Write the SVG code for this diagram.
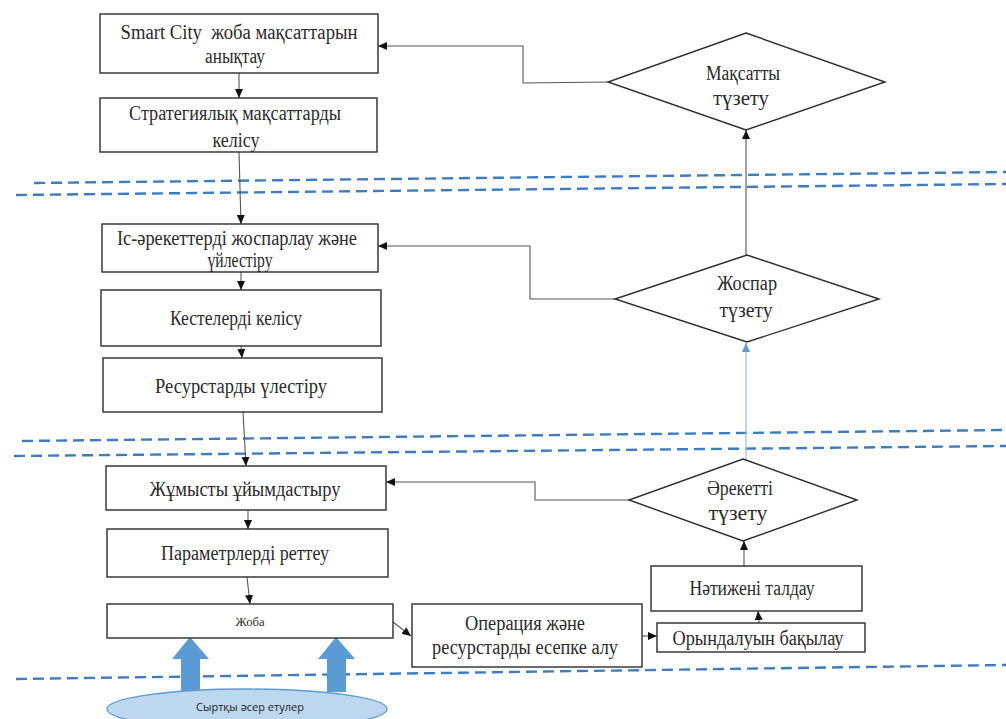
<svg xmlns="http://www.w3.org/2000/svg" width="1006" height="719" viewBox="0 0 1006 719">
  <defs>
    <marker id="arr" markerUnits="userSpaceOnUse" markerWidth="10" markerHeight="10" viewBox="0 0 10 10" refX="9" refY="5" orient="auto">
      <path d="M0,1 L9,5 L0,9 Z" fill="#111"/>
    </marker>
    <marker id="arrBlue" markerUnits="userSpaceOnUse" markerWidth="10" markerHeight="10" viewBox="0 0 10 10" refX="9" refY="5" orient="auto">
      <path d="M0,1 L9,5 L0,9 Z" fill="#5b9bd5"/>
    </marker>
    <style>
      .box { fill: #fff; stroke: #2b2b2b; stroke-width: 1.4; }
      .dia { fill: #fff; stroke: #2b2b2b; stroke-width: 1.4; }
      .t { font-family: "Liberation Serif", "Times New Roman", serif; font-size: 20px; fill: #2a2a2a; text-anchor: middle; }
      .ts { font-family: "Liberation Serif", "Times New Roman", serif; font-size: 13px; fill: #2a2a2a; text-anchor: middle; }
      .link { fill: none; stroke: #555; stroke-width: 1.1; }
      .blue { fill: none; stroke: #9dc3e6; stroke-width: 1.3; }
      .sep { fill: none; stroke: #3b7cc4; stroke-width: 2.4; stroke-dasharray: 11 6; }
      .big { fill: #5b9bd5; }
    </style>
  </defs>

  <rect width="1006" height="719" fill="#fff"/>

  <!-- level separators -->
  <g id="separators">
    <line class="sep" x1="34" y1="183" x2="1006" y2="172"/>
    <line class="sep" x1="16" y1="195" x2="1006" y2="184"/>
    <line class="sep" x1="22" y1="441" x2="1006" y2="430"/>
    <line class="sep" x1="14" y1="456" x2="1006" y2="446"/>
    <line class="sep" x1="16" y1="679" x2="1006" y2="665"/>
  </g>

  <!-- connectors -->
  <g id="connectors">
    <line class="link" x1="239" y1="73" x2="239" y2="98" marker-end="url(#arr)"/>
    <line class="link" x1="239" y1="152" x2="241" y2="224" marker-end="url(#arr)"/>
    <line class="link" x1="241" y1="272" x2="241" y2="290" marker-end="url(#arr)"/>
    <line class="link" x1="241" y1="346" x2="242" y2="358" marker-end="url(#arr)"/>
    <line class="link" x1="243" y1="412" x2="246" y2="466" marker-end="url(#arr)"/>
    <line class="link" x1="248" y1="510" x2="248" y2="529" marker-end="url(#arr)"/>
    <line class="link" x1="247" y1="577" x2="250" y2="604" marker-end="url(#arr)"/>
    <line class="link" x1="393" y1="622" x2="411" y2="636" marker-end="url(#arr)"/>
    <line class="link" x1="642" y1="636" x2="657" y2="636" marker-end="url(#arr)"/>
    <line class="link" x1="759" y1="623" x2="758" y2="611" marker-end="url(#arr)"/>
    <line class="link" x1="744" y1="566" x2="744" y2="541" marker-end="url(#arr)"/>
    <polyline class="link" points="629,500 535,500 535,482 386,482" marker-end="url(#arr)"/>
    <line class="blue" x1="746" y1="459" x2="746" y2="343" marker-end="url(#arrBlue)"/>
    <polyline class="link" points="615,299 530,299 530,246 378,246" marker-end="url(#arr)"/>
    <line class="link" x1="746" y1="255" x2="746" y2="130" marker-end="url(#arr)"/>
    <polyline class="link" points="608,82 523,83 523,46 378,46" marker-end="url(#arr)"/>
  </g>

  <!-- external influence arrows -->
  <g id="influence-arrows">
    <path class="big" d="M190,637 L209,659 L200,659 L200,692 L181,692 L181,659 L172,659 Z"/>
    <path class="big" d="M336,637 L355,659 L346,659 L346,692 L327,692 L327,659 L318,659 Z"/>
  </g>

  <g id="n-goals">
    <rect class="box" x="100" y="14" width="278" height="59"/>
    <text class="t" x="239" y="39" textLength="237" lengthAdjust="spacingAndGlyphs" xml:space="preserve">Smart City  жоба мақсаттарын</text>
    <text class="t" x="235" y="63" textLength="60" lengthAdjust="spacingAndGlyphs">анықтау</text>
  </g>
  <g id="n-strategy">
    <rect class="box" x="100" y="98" width="277" height="54"/>
    <text class="t" x="235" y="120" textLength="212" lengthAdjust="spacingAndGlyphs">Стратегиялық мақсаттарды</text>
    <text class="t" x="236" y="147" textLength="47" lengthAdjust="spacingAndGlyphs">келісу</text>
  </g>
  <g id="n-planning">
    <rect class="box" x="102" y="224" width="276" height="48"/>
    <text class="t" x="237" y="245" textLength="240" lengthAdjust="spacingAndGlyphs">Іс-әрекеттерді жоспарлау және</text>
    <text class="t" x="240" y="267" textLength="65" lengthAdjust="spacingAndGlyphs">үйлестіру</text>
  </g>
  <g id="n-schedules">
    <rect class="box" x="101" y="290" width="280" height="56"/>
    <text class="t" x="236" y="325" textLength="132" lengthAdjust="spacingAndGlyphs">Кестелерді келісу</text>
  </g>
  <g id="n-resources">
    <rect class="box" x="103" y="358" width="279" height="54"/>
    <text class="t" x="241" y="393" textLength="172" lengthAdjust="spacingAndGlyphs">Ресурстарды үлестіру</text>
  </g>
  <g id="n-organize">
    <rect class="box" x="106" y="466" width="280" height="44"/>
    <text class="t" x="245" y="496" textLength="191" lengthAdjust="spacingAndGlyphs">Жұмысты ұйымдастыру</text>
  </g>
  <g id="n-params">
    <rect class="box" x="107" y="529" width="281" height="48"/>
    <text class="t" x="245" y="560" textLength="168" lengthAdjust="spacingAndGlyphs">Параметрлерді реттеу</text>
  </g>
  <g id="n-project">
    <rect class="box" x="107" y="604" width="286" height="34"/>
    <text class="ts" x="250" y="626" textLength="29" lengthAdjust="spacingAndGlyphs">Жоба</text>
  </g>
  <g id="n-accounting">
    <rect class="box" x="412" y="604" width="230" height="63"/>
    <text class="t" x="525" y="630" textLength="120" lengthAdjust="spacingAndGlyphs">Операция және</text>
    <text class="t" x="525" y="654" textLength="186" lengthAdjust="spacingAndGlyphs">ресурстарды есепке алу</text>
  </g>
  <g id="n-monitoring">
    <rect class="box" x="657" y="623" width="208" height="29"/>
    <text class="t" x="758" y="645" textLength="171" lengthAdjust="spacingAndGlyphs">Орындалуын бақылау</text>
  </g>
  <g id="n-analysis">
    <rect class="box" x="651" y="566" width="211" height="45"/>
    <text class="t" x="752" y="595" textLength="125" lengthAdjust="spacingAndGlyphs">Нәтижені талдау</text>
  </g>
  <g id="n-fix-action">
    <polygon class="dia" points="743,459 857,500 743,541 629,500"/>
    <text class="t" x="740" y="495" textLength="66" lengthAdjust="spacingAndGlyphs">Әрекетті</text>
    <text class="t" x="738" y="520" textLength="59" lengthAdjust="spacingAndGlyphs">түзету</text>
  </g>
  <g id="n-fix-plan">
    <polygon class="dia" points="747,255 879,299 747,342 615,299"/>
    <text class="t" x="747" y="290" textLength="60" lengthAdjust="spacingAndGlyphs">Жоспар</text>
    <text class="t" x="746" y="317" textLength="53" lengthAdjust="spacingAndGlyphs">түзету</text>
  </g>
  <g id="n-fix-goal">
    <polygon class="dia" points="746,33 885,82 746,130 608,82"/>
    <text class="t" x="743" y="80" textLength="74" lengthAdjust="spacingAndGlyphs">Мақсатты</text>
    <text class="t" x="741" y="105" textLength="56" lengthAdjust="spacingAndGlyphs">түзету</text>
  </g>
  <g id="n-external">
    <ellipse cx="247" cy="709" rx="140" ry="20" fill="#bdd7ee" stroke="#5b9bd5" stroke-width="1.3"/>
    <text x="250" y="711" font-family="'Open Sans', 'Noto Sans', sans-serif" font-size="11" fill="#222" text-anchor="middle">Сыртқы әсер етулер</text>
  </g>
</svg>
